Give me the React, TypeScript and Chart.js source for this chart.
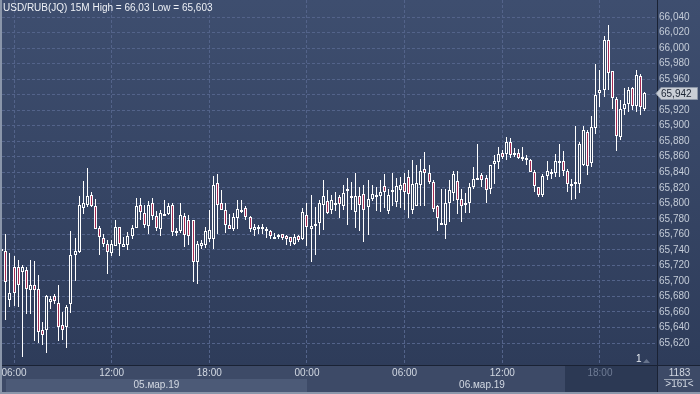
import { useEffect, useRef } from 'react';
import { Chart, registerables } from 'chart.js';

Chart.register(...registerables);

// 15-minute candles, USD/RUB, starting 05.03.19 05:15
const opens = [
  65.741, 65.739, 65.675, 65.718, 65.718, 65.712, 65.714, 65.689, 65.695, 65.689,
  65.637, 65.637, 65.673, 65.681, 65.671, 65.643, 65.640, 65.670, 65.734, 65.737,
  65.795, 65.797, 65.811, 65.797, 65.768, 65.755, 65.748, 65.736, 65.745, 65.769,
  65.744, 65.746, 65.758, 65.769, 65.798, 65.787, 65.771, 65.800, 65.784, 65.767,
  65.784, 65.787, 65.798, 65.761, 65.764, 65.784, 65.779, 65.779, 65.724, 65.745,
  65.746, 65.754, 65.754, 65.826, 65.801, 65.792, 65.772, 65.767, 65.781, 65.791,
  65.794, 65.783, 65.7665, 65.767, 65.767, 65.767, 65.764, 65.757, 65.756, 65.760,
  65.758, 65.756, 65.748, 65.758, 65.754, 65.785, 65.767, 65.771, 65.774, 65.797,
  65.803, 65.791, 65.798, 65.808, 65.796, 65.817, 65.8094, 65.789, 65.809, 65.812,
  65.795, 65.806, 65.808, 65.810, 65.822, 65.791, 65.814, 65.802, 65.817, 65.826,
  65.834, 65.791, 65.797, 65.824, 65.844, 65.839, 65.827, 65.796, 65.774, 65.773,
  65.800, 65.814, 65.829, 65.805, 65.800, 65.801, 65.821, 65.832, 65.836, 65.832,
  65.818, 65.851, 65.854, 65.865, 65.864, 65.879, 65.862, 65.865, 65.858, 65.859,
  65.856, 65.840, 65.821, 65.810, 65.835, 65.839, 65.839, 65.851, 65.854, 65.841,
  65.822, 65.825, 65.825, 65.849, 65.892, 65.851, 65.897, 65.942, 65.946, 66.010,
  65.970, 65.935, 65.886, 65.922, 65.928, 65.948, 65.925, 65.964, 65.922,
];
const highs = [
  65.743, 65.760, 65.736, 65.732, 65.727, 65.720, 65.718, 65.727, 65.726, 65.708,
  65.647, 65.682, 65.680, 65.683, 65.695, 65.660, 65.669, 65.764, 65.755, 65.809,
  65.829, 65.845, 65.814, 65.805, 65.771, 65.761, 65.753, 65.753, 65.778, 65.769,
  65.757, 65.763, 65.772, 65.807, 65.807, 65.798, 65.803, 65.807, 65.790, 65.791,
  65.804, 65.800, 65.801, 65.768, 65.800, 65.788, 65.785, 65.779, 65.751, 65.753,
  65.770, 65.792, 65.835, 65.838, 65.817, 65.800, 65.786, 65.787, 65.804, 65.804,
  65.797, 65.784, 65.773, 65.772, 65.773, 65.770, 65.766, 65.762, 65.761, 65.761,
  65.759, 65.757, 65.760, 65.759, 65.794, 65.800, 65.811, 65.795, 65.804, 65.830,
  65.817, 65.811, 65.815, 65.811, 65.824, 65.832, 65.828, 65.839, 65.821, 65.824,
  65.830, 65.824, 65.8215, 65.830, 65.838, 65.819, 65.839, 65.832, 65.834, 65.839,
  65.843, 65.856, 65.849, 65.857, 65.866, 65.849, 65.830, 65.798, 65.819, 65.819,
  65.830, 65.842, 65.841, 65.819, 65.813, 65.826, 65.847, 65.876, 65.839, 65.836,
  65.849, 65.862, 65.873, 65.869, 65.885, 65.884, 65.871, 65.870, 65.872, 65.862,
  65.857, 65.843, 65.8215, 65.838, 65.855, 65.844, 65.864, 65.876, 65.867, 65.844,
  65.831, 65.900, 65.879, 65.899, 65.894, 65.913, 65.980, 65.972, 66.015, 66.030,
  65.970, 65.937, 65.933, 65.948, 65.950, 65.950, 65.972, 65.967, 65.944,
];
const lows = [
  65.739, 65.649, 65.666, 65.667, 65.667, 65.602, 65.658, 65.658, 65.623, 65.620,
  65.617, 65.607, 65.663, 65.670, 65.623, 65.624, 65.614, 65.658, 65.699, 65.736,
  65.787, 65.795, 65.795, 65.766, 65.734, 65.744, 65.709, 65.733, 65.745, 65.731,
  65.744, 65.740, 65.754, 65.768, 65.779, 65.768, 65.761, 65.779, 65.764, 65.758,
  65.783, 65.785, 65.758, 65.758, 65.761, 65.744, 65.746, 65.699, 65.696, 65.742,
  65.743, 65.751, 65.741, 65.761, 65.791, 65.761, 65.767, 65.764, 65.766, 65.787,
  65.779, 65.763, 65.757, 65.761, 65.760, 65.756, 65.755, 65.755, 65.755, 65.753,
  65.746, 65.745, 65.746, 65.750, 65.753, 65.745, 65.725, 65.733, 65.759, 65.766,
  65.786, 65.787, 65.791, 65.782, 65.792, 65.771, 65.792, 65.768, 65.764, 65.751,
  65.759, 65.804, 65.791, 65.789, 65.794, 65.787, 65.796, 65.794, 65.794, 65.791,
  65.781, 65.787, 65.796, 65.796, 65.796, 65.824, 65.789, 65.765, 65.772, 65.754,
  65.776, 65.803, 65.785, 65.776, 65.787, 65.787, 65.819, 65.830, 65.821, 65.800,
  65.811, 65.824, 65.845, 65.858, 65.856, 65.858, 65.859, 65.857, 65.854, 65.849,
  65.840, 65.815, 65.809, 65.809, 65.831, 65.831, 65.834, 65.834, 65.835, 65.815,
  65.804, 65.806, 65.813, 65.847, 65.836, 65.847, 65.890, 65.924, 65.937, 65.946,
  65.921, 65.867, 65.882, 65.913, 65.918, 65.920, 65.918, 65.914, 65.920,
];
const closes = [
  65.7405, 65.699, 65.684, 65.685, 65.695, 65.718, 65.690, 65.695, 65.689, 65.633,
  65.630, 65.681, 65.677, 65.675, 65.640, 65.637, 65.666, 65.733, 65.739, 65.798,
  65.801, 65.809, 65.797, 65.767, 65.756, 65.747, 65.738, 65.747, 65.769, 65.747,
  65.748, 65.758, 65.768, 65.797, 65.789, 65.771, 65.798, 65.783, 65.769, 65.788,
  65.786, 65.797, 65.763, 65.764, 65.785, 65.759, 65.759, 65.725, 65.747, 65.749,
  65.764, 65.766, 65.824, 65.798, 65.792, 65.773, 65.767, 65.783, 65.793, 65.792,
  65.782, 65.767, 65.770, 65.769, 65.769, 65.766, 65.757, 65.757, 65.759, 65.755,
  65.754, 65.749, 65.757, 65.753, 65.789, 65.770, 65.771, 65.773, 65.800, 65.809,
  65.787, 65.804, 65.801, 65.799, 65.813, 65.819, 65.8077, 65.809, 65.798, 65.791,
  65.805, 65.812, 65.811, 65.815, 65.814, 65.811, 65.817, 65.822, 65.824, 65.815,
  65.812, 65.825, 65.826, 65.842, 65.839, 65.827, 65.792, 65.781, 65.773, 65.801,
  65.817, 65.838, 65.805, 65.796, 65.799, 65.821, 65.831, 65.833, 65.830, 65.817,
  65.849, 65.855, 65.864, 65.860, 65.879, 65.862, 65.865, 65.859, 65.860, 65.856,
  65.841, 65.822, 65.811, 65.835, 65.841, 65.840, 65.854, 65.854, 65.841, 65.824,
  65.825, 65.828, 65.876, 65.894, 65.848, 65.898, 65.940, 65.946, 66.010, 65.968,
  65.935, 65.887, 65.922, 65.928, 65.946, 65.925, 65.965, 65.924, 65.942,
];

const xTickIndex = [3, 27, 51, 75, 99, 123, 147];
const xTickLabels = ['06:00', '12:00', '18:00', '00:00', '06:00', '12:00', '18:00'];
const yTickValues = [
  65.62, 65.64, 65.66, 65.68, 65.7, 65.72, 65.74, 65.76, 65.78, 65.8, 65.82,
  65.84, 65.86, 65.88, 65.9, 65.92, 65.94, 65.96, 65.98, 66.0, 66.02, 66.04,
];
const dayLabels = ['05.мар.19', '06.мар.19'];
const dayStarts = [1, 75];
const shadedFrom = [138.4];
const titleText = 'USD/RUB(JQ) 15M High = 66,03 Low = 65,603';
const barCountText = '1183';
const visibleText = '>161<';
const markerText = '1';

const FONT = '"Liberation Sans", Arial, sans-serif';
const RED = '#a52a52';
const UPFILL = '#34435f';
const GRID = '#53638a';
const LIGHT = '#d3d9e3';
const DIM = '#6f7c95';
const YLAB = '#c4ccd8';

export default function App() {
  const ref = useRef<HTMLCanvasElement>(null);

  useEffect(() => {
    document.body.style.margin = '0';
    const canvas = ref.current;
    if (!canvas) return;

    const bgPlugin = {
      id: 'bg',
      beforeDraw(chart: any) {
        const { ctx, width, height, chartArea: a } = chart;
        ctx.save();
        const g = ctx.createLinearGradient(0, 0, 0, a.bottom);
        g.addColorStop(0, '#3e4e6f');
        g.addColorStop(1, '#2e3c5a');
        ctx.fillStyle = g;
        ctx.fillRect(0, 0, width, a.bottom);
        ctx.fillStyle = '#3d4a67';
        ctx.fillRect(0, a.bottom, width, height - a.bottom);
        const xs = chart.scales.x;
        const d0 = Math.round(xs.getPixelForValue(dayStarts[0]));
        const d1 = Math.round(xs.getPixelForValue(dayStarts[1]));
        ctx.fillStyle = '#4c5a77';
        ctx.fillRect(d0, a.bottom + 14, d1 - d0, 13);
        const s = Math.round(xs.getPixelForValue(shadedFrom[0]));
        ctx.fillStyle = '#2c3954';
        ctx.fillRect(s, a.bottom + 1, a.right - s, height - a.bottom - 3);
        ctx.restore();
      },
    };

    const crispPlugin = {
      id: 'crisp',
      afterDatasetsUpdate(chart: any) {
        chart.data.datasets.forEach((_ds: any, di: number) => {
          const meta = chart.getDatasetMeta(di);
          const minH = di === 0 ? 2 : 1;
          meta.data.forEach((el: any) => {
            const x = Math.floor(el.x) + 0.5;
            const top = Math.round(Math.min(el.y, el.base));
            let h = Math.round(Math.abs(el.base - el.y));
            if (h < minH) h = minH;
            el.x = x;
            el.y = top;
            el.base = top + h;
            el.height = h;
          });
        });
      },
    };

    const overlayPlugin = {
      id: 'overlay',
      afterDraw(chart: any) {
        const { ctx, width, height, chartArea: a } = chart;
        const xs = chart.scales.x;
        const ys = chart.scales.y;
        ctx.save();
        ctx.fillStyle = '#1a2234';
        ctx.fillRect(a.right, 0, 1, height);
        ctx.fillRect(0, a.bottom, width, 1);
        ctx.fillStyle = '#8a96aa';
        ctx.fillRect(0, 0, 2, height);
        ctx.fillRect(0, height - 2, width, 2);
        ctx.font = `10px ${FONT}`;
        ctx.fillStyle = '#eef1f6';
        ctx.textAlign = 'left';
        ctx.textBaseline = 'alphabetic';
        ctx.fillText(titleText, 3, 11);
        const d0 = xs.getPixelForValue(dayStarts[0]);
        const d1 = xs.getPixelForValue(dayStarts[1]);
        ctx.textAlign = 'center';
        ctx.fillStyle = LIGHT;
        ctx.fillText(dayLabels[0], (d0 + d1) / 2, a.bottom + 23);
        ctx.fillText(dayLabels[1], (d1 + a.right) / 2, a.bottom + 23);
        ctx.fillText(barCountText, (a.right + width) / 2 + 1, a.bottom + 11);
        ctx.fillText(visibleText, (a.right + width) / 2 + 1, a.bottom + 22);
        ctx.fillStyle = '#9aa3b3';
        ctx.fillRect(a.right + 7, a.bottom + 14, 28, 1);
        ctx.fillStyle = '#e8ecf2';
        ctx.textAlign = 'left';
        ctx.fillText(markerText, 636, a.bottom - 3);
        ctx.fillStyle = '#66738c';
        ctx.beginPath();
        ctx.moveTo(643, a.bottom - 2);
        ctx.lineTo(646.5, a.bottom - 6);
        ctx.lineTo(650, a.bottom - 2);
        ctx.closePath();
        ctx.fill();
        const last = closes[closes.length - 1];
        const py = Math.round(ys.getPixelForValue(last));
        ctx.beginPath();
        ctx.moveTo(a.right - 1, py + 0.5);
        ctx.lineTo(a.right + 4, py - 5.5);
        ctx.lineTo(width - 2.5, py - 5.5);
        ctx.lineTo(width - 2.5, py + 6.5);
        ctx.lineTo(a.right + 4, py + 6.5);
        ctx.closePath();
        ctx.fillStyle = '#c9ced6';
        ctx.fill();
        ctx.strokeStyle = '#8d97a8';
        ctx.lineWidth = 1;
        ctx.stroke();
        ctx.fillStyle = '#1a2333';
        ctx.textBaseline = 'middle';
        ctx.fillText(last.toFixed(3).replace('.', ','), a.right + 4, py + 1);
        ctx.restore();
      },
    };

    const chart = new Chart(canvas, {
      type: 'bar',
      data: {
        datasets: [
          {
            label: 'body',
            data: opens.map((o, i) => ({ x: i, y: [o, closes[i]] })) as any,
            backgroundColor: opens.map((o, i) => (closes[i] < o ? RED : UPFILL)),
            borderColor: '#ffffff',
            borderWidth: 1,
            borderSkipped: false,
            barThickness: 3,
            grouped: false,
            inflateAmount: 0,
            order: 0,
          } as any,
          {
            label: 'wick',
            data: lows.map((l, i) => ({ x: i, y: [l, highs[i]] })) as any,
            backgroundColor: '#ffffff',
            borderWidth: 0,
            barThickness: 1,
            grouped: false,
            inflateAmount: 0,
            order: 1,
          } as any,
        ],
      },
      options: {
        responsive: false,
        animation: false,
        devicePixelRatio: 1,
        events: [],
        layout: { padding: { left: 2, top: 0, right: 0, bottom: 0 } },
        plugins: { legend: { display: false }, tooltip: { enabled: false } },
        scales: {
          x: {
            type: 'linear',
            position: 'bottom',
            min: 0.049,
            max: 161.02,
            offset: false,
            afterBuildTicks: (s: any) => {
              s.ticks = xTickIndex.map((v) => ({ value: v }));
            },
            afterFit: (s: any) => {
              s.height = 29;
              s.paddingLeft = 0;
              s.paddingRight = 0;
              s.paddingTop = 0;
              s.paddingBottom = 0;
            },
            grid: { color: GRID, drawTicks: false, offset: false, lineWidth: 1 },
            border: { display: false, dash: [3, 2] },
            ticks: {
              autoSkip: false,
              maxRotation: 0,
              padding: 2,
              font: { size: 10, family: FONT },
              color: (c: any) => (c.index === 6 ? DIM : LIGHT),
              callback: (_v: any, i: number) => xTickLabels[i],
            },
          },
          y: {
            type: 'linear',
            position: 'right',
            min: 65.5917,
            max: 66.0619,
            afterBuildTicks: (s: any) => {
              s.ticks = yTickValues.map((v) => ({ value: v }));
            },
            afterFit: (s: any) => {
              s.width = 43;
              s.paddingLeft = 0;
              s.paddingRight = 0;
              s.paddingTop = 0;
              s.paddingBottom = 0;
            },
            grid: { color: GRID, drawTicks: false, lineWidth: 1 },
            border: { display: false, dash: [3, 2] },
            ticks: {
              padding: 2,
              font: { size: 10, family: FONT },
              color: YLAB,
              callback: (v: any) => Number(v).toFixed(3).replace('.', ','),
            },
          },
        },
      } as any,
      plugins: [bgPlugin, crispPlugin, overlayPlugin],
    });

    return () => chart.destroy();
  }, []);

  return (
    <div style={{ position: 'absolute', left: 0, top: 0, width: 700, height: 394 }}>
      <canvas ref={ref} width={700} height={394} style={{ display: 'block', width: 700, height: 394 }} />
    </div>
  );
}
